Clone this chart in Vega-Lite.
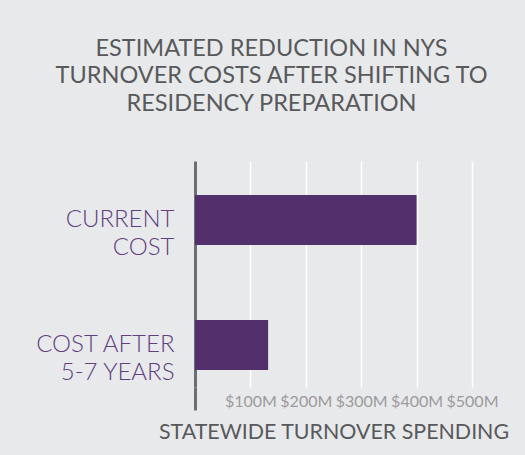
{
  "$schema": "https://vega.github.io/schema/vega-lite/v6.json",
  "width": 277,
  "height": 226,
  "autosize": {"type": "none"},
  "padding": {"left": 195, "top": 161, "right": 53, "bottom": 68},
  "background": "#e8e9eb",
  "title": {
    "text": ["ESTIMATED REDUCTION IN NYS", "TURNOVER COSTS AFTER SHIFTING TO", "RESIDENCY PREPARATION"],
    "font": "Lato",
    "fontSize": 23.5,
    "fontWeight": 400,
    "lineHeight": 27.5,
    "color": "#58595b",
    "anchor": "middle",
    "frame": "bounds",
    "offset": 46
  },
  "data": {
    "values": [
      {"category": "CURRENT COST", "cost": 400},
      {"category": "COST AFTER 5-7 YEARS", "cost": 132}
    ]
  },
  "mark": {"type": "bar", "color": "#52306b"},
  "encoding": {
    "y": {
      "field": "category",
      "type": "nominal",
      "sort": null,
      "scale": {"paddingInner": 0.6, "paddingOuter": 0.204, "align": 0.667},
      "axis": {
        "title": null,
        "labelExpr": "datum.value == 'CURRENT COST' ? ['CURRENT', 'COST'] : ['COST AFTER', '5-7 YEARS']",
        "labelFont": "Lato",
        "labelFontSize": 24,
        "labelFontWeight": 300,
        "labelLineHeight": 27.5,
        "labelColor": "#60407f",
        "labelPadding": 21,
        "ticks": false,
        "grid": false,
        "domain": true,
        "domainColor": "#6d6e71",
        "domainWidth": 3
      }
    },
    "x": {
      "field": "cost",
      "type": "quantitative",
      "scale": {"domain": [0, 500], "nice": false},
      "axis": {
        "title": "STATEWIDE TURNOVER SPENDING",
        "titleFont": "Lato",
        "titleFontSize": 21.4,
        "titleFontWeight": 400,
        "titleColor": "#58595b",
        "titlePadding": 10,
        "values": [0, 100, 200, 300, 400, 500],
        "labelExpr": "datum.value == 0 ? '' : '$' + datum.value + 'M'",
        "labelFont": "Lato",
        "labelFontSize": 16,
        "labelColor": "#9b9b9d",
        "labelPadding": -17,
        "labelOverlap": false,
        "labelFlush": false,
        "labelBound": false,
        "domain": false,
        "ticks": true,
        "tickSize": 23,
        "tickWidth": 3,
        "tickColor": {"condition": {"test": "datum.value == 0", "value": "#6d6e71"}, "value": "transparent"},
        "grid": true,
        "gridColor": "#ffffff",
        "gridWidth": 1.5
      }
    }
  },
  "config": {
    "view": {"stroke": null}
  }
}
